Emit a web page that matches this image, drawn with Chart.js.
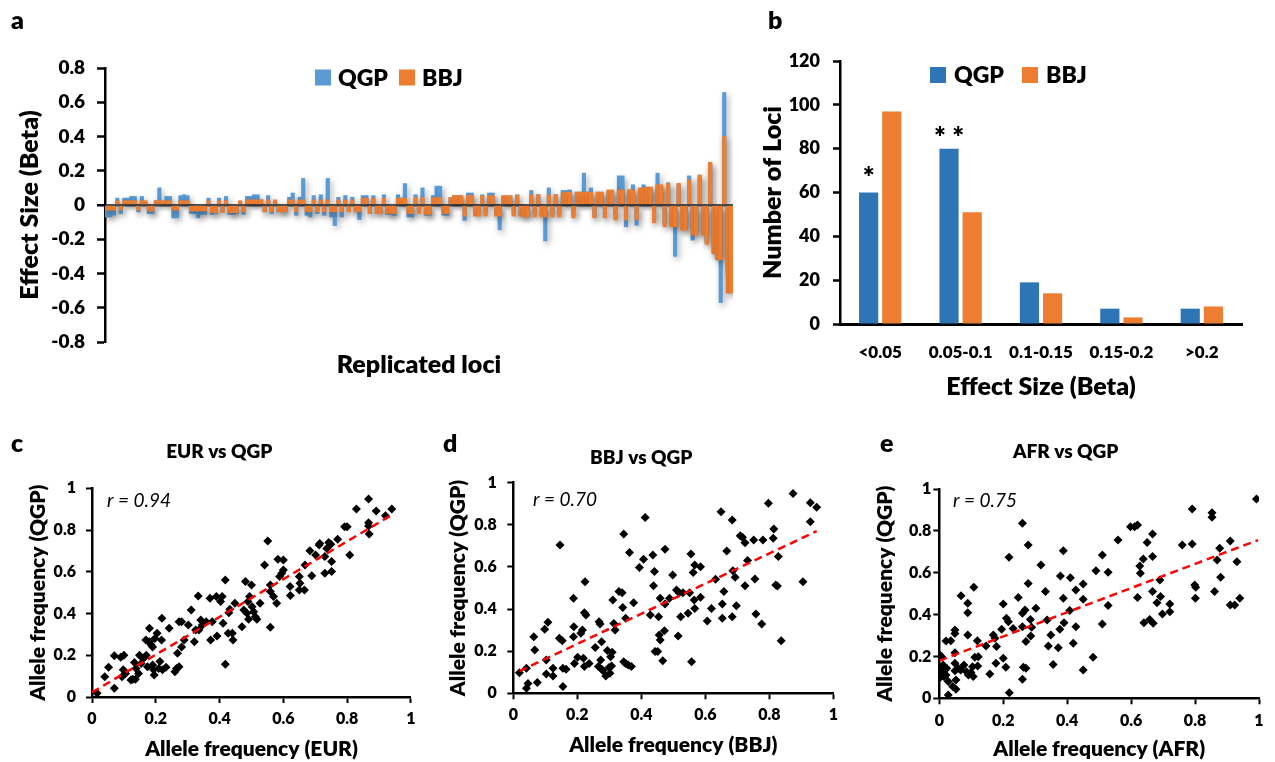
<!DOCTYPE html>
<html>
<head>
<meta charset="utf-8">
<script src="https://cdn.jsdelivr.net/npm/chart.js@4.4.1/dist/chart.umd.min.js"></script>
<style>
  html, body { margin: 0; padding: 0; background: #fff; }
  #wrap { position: relative; width: 1275px; height: 762px; overflow: hidden; }
  .p { position: absolute; }
</style>
</head>
<body>
<div id="wrap">
  <canvas class="p" id="ca" width="750" height="395" style="left:0;top:0"></canvas>
  <canvas class="p" id="cb" width="535" height="410" style="left:740px;top:0"></canvas>
  <canvas class="p" id="cc" width="422" height="342" style="left:0;top:420px"></canvas>
  <canvas class="p" id="cd" width="422" height="342" style="left:422px;top:420px"></canvas>
  <canvas class="p" id="ce" width="431" height="342" style="left:844px;top:420px"></canvas>
</div>
<script>
// ---- panel a: effect size per replicated locus ----
const qgpBeta = [
  -0.07, -0.07, -0.06, 0.04, -0.05, 0.04, 0.04, 0.05, 0.05, -0.04,
  0.05, 0.02, -0.05, -0.05, 0.025, 0.10, 0.02, 0.05, 0.05, -0.075,
  -0.075, 0.055, 0.06, 0.055, -0.05, -0.05, -0.075, -0.055, -0.055, 0.04,
  -0.055, -0.05, 0.04, -0.04, 0.05, -0.055, -0.055, -0.05, 0.02, -0.055,
  0.05, 0.05, 0.06, 0.06, 0.03, -0.04, 0.055, -0.05, 0.02, -0.04,
  -0.04, -0.04, 0.045, 0.07, -0.06, 0.045, 0.155, -0.06, -0.07, 0.055,
  -0.05, 0.06, -0.06, 0.155, -0.07, -0.12, 0.045, -0.07, 0.055, -0.035,
  0.045, -0.04, -0.085, 0.055, 0.055, -0.05, 0.055, -0.045, -0.045, 0.06,
  -0.055, -0.055, -0.06, 0.06, 0.04, 0.125, -0.07, -0.07, 0.06, -0.04,
  0.10, -0.06, -0.06, 0.055, 0.11, 0.11, -0.06, -0.06, 0.043, 0.055,
  0.055, 0.055, -0.09, 0.07, 0.07, -0.04, -0.04, 0.06, -0.04, 0.07,
  0.07, -0.06, -0.145, 0.05, 0.05, 0.05, -0.05, 0.06, -0.06, -0.06,
  -0.06, 0.085, -0.05, 0.06, -0.06, -0.21, 0.10, -0.05, 0.06, -0.05,
  0.085, 0.085, 0.088, -0.06, 0.075, 0.075, 0.186, 0.075, 0.10, -0.07,
  0.075, 0.075, -0.07, 0.08, 0.08, -0.08, 0.17, 0.17, -0.127, 0.088,
  0.118, -0.118, 0.09, 0.118, 0.10, 0.10, -0.09, 0.186, 0.11, -0.11,
  0.13, -0.12, -0.30, 0.12, -0.14, -0.14, 0.17, -0.205, -0.16, 0.17,
  -0.17, -0.22, 0.24, -0.28, -0.30, -0.57, 0.657, -0.40, -0.45
];
const bbjBeta = [
  -0.03, -0.03, -0.03, 0.025, -0.03, 0.025, 0.025, 0.025, 0.025, -0.03,
  0.025, 0.025, -0.035, -0.035, 0.025, 0.025, 0.025, 0.025, 0.025, -0.03,
  -0.03, 0.025, 0.025, 0.025, -0.035, -0.035, -0.035, -0.035, -0.035, 0.025,
  -0.045, -0.045, 0.025, -0.045, 0.025, -0.045, -0.045, -0.045, 0.025, -0.04,
  0.03, 0.03, 0.03, 0.03, 0.03, -0.04, 0.03, -0.04, 0.03, -0.04,
  -0.04, -0.04, 0.03, 0.03, -0.04, 0.03, 0.03, -0.04, -0.04, 0.03,
  -0.04, 0.03, -0.04, 0.03, -0.04, -0.04, 0.03, -0.04, 0.03, -0.04,
  0.03, -0.04, -0.04, 0.04, 0.04, -0.05, 0.04, -0.05, -0.05, 0.04,
  -0.05, -0.05, -0.05, 0.04, 0.04, 0.04, -0.05, -0.05, 0.043, -0.05,
  0.043, -0.055, -0.055, 0.043, 0.043, 0.043, -0.05, -0.05, 0.043, 0.055,
  0.055, 0.055, -0.065, 0.055, 0.055, -0.065, -0.065, 0.055, -0.065, 0.055,
  0.055, -0.065, -0.065, 0.055, 0.055, 0.055, -0.065, 0.055, -0.065, -0.07,
  -0.07, 0.06, -0.07, 0.06, -0.07, -0.07, 0.06, -0.07, 0.06, -0.07,
  0.07, 0.075, 0.075, -0.075, 0.075, 0.075, 0.075, 0.075, 0.075, -0.075,
  0.075, 0.075, -0.075, 0.088, 0.088, -0.088, 0.088, 0.088, -0.088, 0.088,
  0.088, -0.088, 0.10, 0.10, 0.105, 0.105, -0.104, 0.118, 0.118, -0.127,
  0.127, -0.127, -0.127, 0.127, -0.147, -0.147, 0.147, -0.176, -0.176, 0.176,
  -0.176, -0.23, 0.25, -0.285, -0.32, -0.32, 0.40, -0.515, -0.515
];
const loci = qgpBeta.map((v, i) => i + 1);

// ---- panel b: number of loci per effect-size bin ----
const betaBins = ['<0.05', '0.05-0.1', '0.1-0.15', '0.15-0.2', '>0.2'];
const qgpLoci = [60, 80, 19, 7, 7];
const bbjLoci = [97, 51, 14, 3, 8];
const starMarks = ['*', '* *', '', '', ''];

// ---- panels c-e: allele frequency pairs [population, QGP] ----
const eurVsQgp = [
  [0.016,0.018],[0.04,0.097],[0.052,0.142],[0.07,0.042],[0.07,0.198],[0.09,0.19],[0.10,0.20],
  [0.094,0.097],[0.098,0.13],[0.105,0.113],[0.122,0.081],[0.128,0.085],[0.136,0.085],[0.133,0.165],
  [0.138,0.137],[0.149,0.2],[0.146,0.113],[0.154,0.161],[0.161,0.185],[0.17,0.2],[0.174,0.145],
  [0.169,0.273],[0.18,0.33],[0.18,0.265],[0.185,0.25],[0.19,0.24],[0.19,0.153],[0.193,0.13],
  [0.195,0.105],[0.197,0.28],[0.204,0.305],[0.209,0.137],[0.213,0.17],[0.218,0.273],[0.219,0.377],
  [0.221,0.13],[0.232,0.142],[0.242,0.33],[0.26,0.121],[0.265,0.137],[0.268,0.21],[0.273,0.145],
  [0.273,0.361],[0.281,0.361],[0.281,0.24],[0.289,0.273],[0.302,0.345],[0.311,0.417],[0.321,0.265],
  [0.325,0.321],[0.333,0.484],[0.335,0.321],[0.341,0.369],[0.346,0.345],[0.358,0.361],[0.37,0.473],
  [0.372,0.273],[0.377,0.361],[0.39,0.481],[0.392,0.292],[0.403,0.457],[0.408,0.481],[0.411,0.353],
  [0.418,0.561],[0.418,0.157],[0.427,0.305],[0.429,0.404],[0.432,0.42],[0.44,0.305],[0.442,0.273],
  [0.448,0.449],[0.47,0.337],[0.476,0.417],[0.481,0.553],[0.486,0.401],[0.489,0.457],[0.491,0.372],
  [0.494,0.481],[0.5,0.537],[0.502,0.433],[0.507,0.409],[0.512,0.385],[0.517,0.372],[0.527,0.449],
  [0.541,0.633],[0.551,0.748],[0.559,0.537],[0.559,0.505],[0.559,0.334],[0.569,0.481],[0.579,0.449],
  [0.583,0.66],[0.588,0.577],[0.595,0.593],[0.6,0.657],[0.6,0.609],[0.621,0.529],[0.622,0.486],
  [0.65,0.577],[0.652,0.545],[0.65,0.513],[0.666,0.513],[0.668,0.633],[0.683,0.701],[0.689,0.581],
  [0.701,0.681],[0.712,0.728],[0.714,0.736],[0.73,0.673],[0.73,0.593],[0.736,0.712],[0.742,0.74],
  [0.749,0.732],[0.751,0.649],[0.751,0.601],[0.77,0.756],[0.792,0.816],[0.8,0.816],[0.808,0.681],
  [0.829,0.901],[0.867,0.949],[0.867,0.835],[0.867,0.819],[0.869,0.781],[0.891,0.891],[0.92,0.869],
  [0.94,0.901]
];
const bbjVsQgp = [
  [0.019,0.098],[0.041,0.119],[0.041,0.024],[0.046,0.047],[0.064,0.269],[0.067,0.206],[0.075,0.051],
  [0.098,0.304],[0.103,0.158],[0.103,0.092],[0.108,0.337],[0.124,0.119],[0.124,0.082],[0.144,0.261],
  [0.146,0.704],[0.153,0.25],[0.155,0.032],[0.155,0.119],[0.165,0.114],[0.188,0.451],[0.189,0.316],
  [0.188,0.269],[0.191,0.142],[0.201,0.171],[0.211,0.285],[0.216,0.301],[0.219,0.166],[0.222,0.127],
  [0.222,0.383],[0.227,0.372],[0.224,0.53],[0.237,0.142],[0.256,0.218],[0.268,0.34],[0.271,0.329],
  [0.266,0.127],[0.273,0.158],[0.276,0.114],[0.276,0.245],[0.28,0.108],[0.289,0.082],[0.294,0.203],
  [0.299,0.123],[0.302,0.095],[0.304,0.174],[0.309,0.195],[0.307,0.13],[0.311,0.443],[0.314,0.332],
  [0.318,0.301],[0.33,0.483],[0.34,0.478],[0.342,0.408],[0.345,0.756],[0.345,0.15],[0.351,0.356],
  [0.351,0.142],[0.359,0.134],[0.363,0.669],[0.369,0.127],[0.376,0.43],[0.394,0.597],[0.407,0.636],
  [0.412,0.835],[0.428,0.372],[0.436,0.657],[0.438,0.511],[0.441,0.578],[0.443,0.198],[0.451,0.198],
  [0.454,0.364],[0.456,0.277],[0.459,0.451],[0.459,0.253],[0.467,0.155],[0.472,0.297],[0.474,0.684],
  [0.474,0.424],[0.488,0.451],[0.498,0.562],[0.51,0.491],[0.515,0.272],[0.518,0.478],[0.523,0.364],
  [0.53,0.478],[0.546,0.38],[0.551,0.478],[0.555,0.661],[0.557,0.15],[0.562,0.574],[0.565,0.443],
  [0.567,0.403],[0.567,0.609],[0.585,0.601],[0.585,0.456],[0.606,0.343],[0.619,0.403],[0.632,0.541],
  [0.649,0.862],[0.653,0.424],[0.653,0.356],[0.658,0.483],[0.667,0.676],[0.684,0.823],[0.684,0.364],
  [0.686,0.582],[0.693,0.551],[0.697,0.416],[0.709,0.748],[0.716,0.741],[0.724,0.715],[0.724,0.511],
  [0.732,0.63],[0.751,0.728],[0.755,0.543],[0.758,0.377],[0.776,0.329],[0.78,0.728],[0.797,0.902],
  [0.812,0.736],[0.814,0.78],[0.82,0.514],[0.825,0.509],[0.828,0.649],[0.837,0.25],[0.874,0.949],
  [0.905,0.53],[0.928,0.905],[0.928,0.815],[0.948,0.883]
];
const afrVsQgp = [
  [0,0.096],[0.002,0.207],[0.007,0.199],[0.004,0.148],[0.007,0.119],[0.012,0.159],[0.015,0.103],
  [0.018,0.135],[0.021,0.111],[0.023,0.143],[0.021,0.274],[0.028,0.08],[0.028,0.016],[0.036,0.275],
  [0.042,0.056],[0.049,0.326],[0.049,0.31],[0.049,0.218],[0.049,0.167],[0.049,0.132],[0.052,0.088],
  [0.052,0.043],[0.059,0.143],[0.068,0.49],[0.067,0.135],[0.077,0.159],[0.085,0.127],[0.089,0.454],
  [0.089,0.409],[0.089,0.303],[0.091,0.111],[0.099,0.123],[0.104,0.151],[0.106,0.104],[0.108,0.53],
  [0.111,0.196],[0.119,0.275],[0.122,0.199],[0.12,0.154],[0.146,0.25],[0.158,0.116],[0.169,0.303],
  [0.174,0.287],[0.177,0.167],[0.179,0.247],[0.195,0.33],[0.2,0.451],[0.2,0.191],[0.208,0.148],
  [0.21,0.382],[0.216,0.366],[0.218,0.674],[0.219,0.027],[0.231,0.334],[0.247,0.482],[0.26,0.836],
  [0.26,0.406],[0.26,0.342],[0.26,0.091],[0.263,0.148],[0.268,0.422],[0.271,0.271],[0.271,0.143],
  [0.278,0.732],[0.278,0.549],[0.285,0.377],[0.286,0.298],[0.289,0.339],[0.302,0.43],[0.318,0.637],
  [0.332,0.51],[0.337,0.374],[0.341,0.25],[0.349,0.303],[0.356,0.162],[0.372,0.242],[0.377,0.33],
  [0.379,0.584],[0.388,0.478],[0.39,0.361],[0.388,0.705],[0.408,0.419],[0.41,0.576],[0.419,0.263],
  [0.427,0.342],[0.427,0.518],[0.45,0.546],[0.45,0.473],[0.45,0.135],[0.481,0.196],[0.49,0.61],
  [0.51,0.685],[0.51,0.355],[0.528,0.602],[0.528,0.443],[0.559,0.756],[0.598,0.82],[0.611,0.82],
  [0.62,0.828],[0.62,0.482],[0.627,0.632],[0.629,0.597],[0.638,0.666],[0.64,0.361],[0.65,0.744],
  [0.658,0.377],[0.667,0.785],[0.667,0.677],[0.667,0.51],[0.669,0.358],[0.681,0.457],[0.69,0.565],
  [0.692,0.486],[0.698,0.403],[0.721,0.451],[0.721,0.414],[0.76,0.732],[0.791,0.904],[0.791,0.737],
  [0.799,0.541],[0.801,0.478],[0.802,0.53],[0.853,0.887],[0.853,0.865],[0.861,0.51],[0.869,0.661],
  [0.877,0.717],[0.88,0.578],[0.91,0.752],[0.91,0.446],[0.924,0.446],[0.931,0.653],[0.94,0.478],
  [0.992,0.952]
];
// fitted trend line end points
const eurTrend = [[0, 0.022], [0.943, 0.875]];
const bbjTrend = [[0.019, 0.105], [0.948, 0.77]];
const afrTrend = [[0, 0.18], [0.997, 0.756]];
const freqTicks = [0, 0.2, 0.4, 0.6, 0.8, 1];

Chart.defaults.font.family = 'Lato, "Open Sans", sans-serif';
Chart.defaults.color = '#000';
Chart.defaults.animation = false;

const HEAVY = '800';

// little helpers drawn on the canvas
const notes = {
  id: 'notes',
  afterDraw(chart, args, opts) {
    const ctx = chart.ctx;
    (opts.items || []).forEach(it => {
      ctx.save();
      ctx.font = it.font;
      ctx.fillStyle = '#000';
      ctx.textAlign = 'left';
      ctx.textBaseline = it.base || 'alphabetic';
      ctx.fillText(it.text, it.x, it.y);
      ctx.restore();
    });
  }
};

const floatLegend = {
  id: 'floatLegend',
  afterDraw(chart, args, opts) {
    const ctx = chart.ctx;
    ctx.save();
    ctx.font = opts.font;
    ctx.textBaseline = 'middle';
    let x = opts.x;
    chart.data.datasets.forEach(ds => {
      ctx.fillStyle = ds.backgroundColor;
      ctx.fillRect(x, opts.y - opts.box / 2, opts.box, opts.box);
      x += opts.box + opts.gap;
      ctx.fillStyle = '#000';
      ctx.fillText(ds.label, x, opts.y + 1);
      x += ctx.measureText(ds.label).width + opts.space;
    });
    ctx.restore();
  }
};

const shadow = {
  id: 'shadow',
  beforeDatasetsDraw(chart) {
    const ctx = chart.ctx;
    ctx.save();
    ctx.shadowColor = 'rgba(0,0,0,0.35)';
    ctx.shadowBlur = 6;
    ctx.shadowOffsetX = 2;
    ctx.shadowOffsetY = 3;
  },
  afterDatasetsDraw(chart) {
    chart.ctx.restore();
  }
};

const stars = {
  id: 'stars',
  afterDatasetsDraw(chart, args, opts) {
    const ctx = chart.ctx;
    const meta = chart.getDatasetMeta(0);
    ctx.save();
    ctx.font = HEAVY + ' 28px Lato';
    ctx.textAlign = 'center';
    ctx.textBaseline = 'alphabetic';
    ctx.fillStyle = '#000';
    starMarks.forEach((s, i) => {
      if (!s) return;
      const bar = meta.data[i];
      ctx.fillText(s, bar.x, bar.y + opts.dy[i]);
    });
    ctx.restore();
  }
};

const axisTitle = (text, size) => ({ display: true, text: text, font: { size: size, weight: HEAVY }, padding: 0 });
const plainNum = v => String(v);

// panel a
new Chart(document.getElementById('ca'), {
  type: 'bar',
  data: {
    labels: loci,
    datasets: [
      { label: 'QGP', data: qgpBeta, backgroundColor: '#5b9bd5', order: 1, grouped: false },
      { label: 'BBJ', data: bbjBeta, backgroundColor: '#ed7d31', order: 0, grouped: false }
    ]
  },
  options: {
    responsive: false,
    layout: { padding: { left: 15, top: 68, right: 17, bottom: 15 } },
    datasets: { bar: { barPercentage: 1, categoryPercentage: 1 } },
    plugins: {
      legend: { display: false },
      tooltip: { enabled: false },
      floatLegend: { x: 315, y: 77.5, box: 16, gap: 7, space: 11, font: HEAVY + ' 23px Lato' },
      notes: { items: [{ text: 'a', x: 11, y: 29, font: HEAVY + ' 25px Lato' }] }
    },
    scales: {
      x: {
        grid: { display: false, drawTicks: false },
        border: { display: false },
        ticks: { display: false },
        title: axisTitle('Replicated loci', 25),
        afterFit: s => { s.height = 38; }
      },
      y: {
        min: -0.8, max: 0.8, z: 1,
        ticks: { stepSize: 0.2, padding: 12, font: { size: 19, weight: HEAVY } },
        grid: {
          color: c => (c.tick && c.tick.value === 0) ? '#595959' : 'rgba(0,0,0,0)',
          lineWidth: c => (c.tick && c.tick.value === 0) ? 2.5 : 1,
          tickColor: '#000', tickWidth: 2.5, tickLength: 8
        },
        border: { color: '#000', width: 2.5 },
        title: axisTitle('Effect Size (Beta)', 25),
        afterFit: s => { s.width = 90; }
      }
    }
  },
  plugins: [shadow, floatLegend, notes]
});

// panel b
new Chart(document.getElementById('cb'), {
  type: 'bar',
  data: {
    labels: betaBins,
    datasets: [
      { label: 'QGP', data: qgpLoci, backgroundColor: '#2e75b6' },
      { label: 'BBJ', data: bbjLoci, backgroundColor: '#ed7d31' }
    ]
  },
  options: {
    responsive: false,
    layout: { padding: { left: 18, top: 61, right: 33, bottom: 8 } },
    datasets: { bar: { barPercentage: 0.83, categoryPercentage: 0.575 } },
    plugins: {
      legend: { display: false },
      tooltip: { enabled: false },
      floatLegend: { x: 190, y: 75, box: 16, gap: 8, space: 18, font: HEAVY + ' 23px Lato' },
      stars: { dy: [-6, -2, 0, 0, 0] },
      notes: { items: [{ text: 'b', x: 28, y: 29, font: HEAVY + ' 25px Lato' }] }
    },
    scales: {
      x: {
        grid: { display: false, drawTicks: false },
        border: { color: '#000', width: 3 },
        ticks: { padding: 18, font: { size: 17, weight: HEAVY } },
        title: axisTitle('Effect Size (Beta)', 25),
        afterFit: s => { s.height = 78; }
      },
      y: {
        min: 0, max: 120,
        ticks: { stepSize: 20, padding: 13, font: { size: 18, weight: HEAVY } },
        grid: { drawOnChartArea: false, tickColor: '#000', tickWidth: 2.5, tickLength: 7 },
        border: { color: '#000', width: 2.5 },
        title: axisTitle('Number of Loci', 25),
        afterFit: s => { s.width = 82; }
      }
    }
  },
  plugins: [floatLegend, stars, notes]
});

// panels c-e
function scatterPanel(id, pairs, trend, title, xLabel, rText, lay) {
  return new Chart(document.getElementById(id), {
    type: 'scatter',
    data: {
      datasets: [
        {
          type: 'line', data: trend.map(p => ({ x: p[0], y: p[1] })),
          borderColor: '#ff0000', borderWidth: 2.5, borderDash: [8, 5],
          pointRadius: 0, fill: false
        },
        {
          data: pairs.map(p => ({ x: p[0], y: p[1] })),
          pointStyle: 'rectRot', pointRadius: 4.5,
          backgroundColor: '#000', borderWidth: 0
        }
      ]
    },
    options: {
      responsive: false,
      layout: { padding: { left: lay.padLeft, top: 0, right: lay.padRight, bottom: lay.padBottom } },
      plugins: {
        legend: { display: false },
        tooltip: { enabled: false },
        title: {
          display: true, text: title, font: { size: 19, weight: HEAVY },
          padding: { top: lay.titleTop, bottom: lay.titleBottom }
        },
        notes: { items: [
          { text: lay.letter, x: lay.letterX, y: 32, font: HEAVY + ' 25px Lato' },
          { text: rText, x: lay.rX, y: lay.rY, font: 'italic 19px Lato', base: 'middle' }
        ] }
      },
      scales: {
        x: {
          min: 0, max: 1,
          afterBuildTicks: s => { s.ticks = freqTicks.map(v => ({ value: v })); },
          ticks: { padding: lay.xPad, callback: plainNum, font: { size: 16, weight: HEAVY } },
          grid: { drawOnChartArea: false, tickColor: '#000', tickWidth: 2, tickLength: 6 },
          border: { color: '#000', width: 2.5 },
          title: axisTitle(xLabel, 21),
          afterFit: s => { s.height = lay.xHeight; }
        },
        y: {
          min: 0, max: 1,
          afterBuildTicks: s => { s.ticks = freqTicks.map(v => ({ value: v })); },
          ticks: { padding: lay.yPad, callback: plainNum, font: { size: 16, weight: HEAVY } },
          grid: { drawOnChartArea: false, tickColor: '#000', tickWidth: 2, tickLength: 6 },
          border: { color: '#000', width: 2.5 },
          title: axisTitle('Allele frequency (QGP)', 21),
          afterFit: s => { s.width = lay.yWidth; }
        }
      }
    },
    plugins: [notes]
  });
}

scatterPanel('cc', eurVsQgp, eurTrend, 'EUR vs QGP', 'Allele frequency (EUR)', 'r = 0.94',
  { padLeft: 25.4, padRight: 9, padBottom: 0, titleTop: 20.6, titleBottom: 24.9, xHeight: 65, yWidth: 66.6,
    xPad: 6.4, yPad: 10, letter: 'c', letterX: 11, rX: 107, rY: 81 });
scatterPanel('cd', bbjVsQgp, bbjTrend, 'BBJ vs QGP', 'Allele frequency (BBJ)', 'r = 0.70',
  { padLeft: 23.7, padRight: 7.3, padBottom: 4.4, titleTop: 26.6, titleBottom: 13.3, xHeight: 64.3, yWidth: 67.6,
    xPad: 6, yPad: 10.6, letter: 'd', letterX: 21, rX: 111, rY: 80 });
scatterPanel('ce', afrVsQgp, afrTrend, 'AFR vs QGP', 'Allele frequency (AFR)', 'r = 0.75',
  { padLeft: 28.4, padRight: 16, padBottom: 0, titleTop: 20.6, titleBottom: 25.6, xHeight: 63.7, yWidth: 66.9,
    xPad: 7, yPad: 2, letter: 'e', letterX: 36, rX: 109, rY: 81 });
</script>
</body>
</html>
